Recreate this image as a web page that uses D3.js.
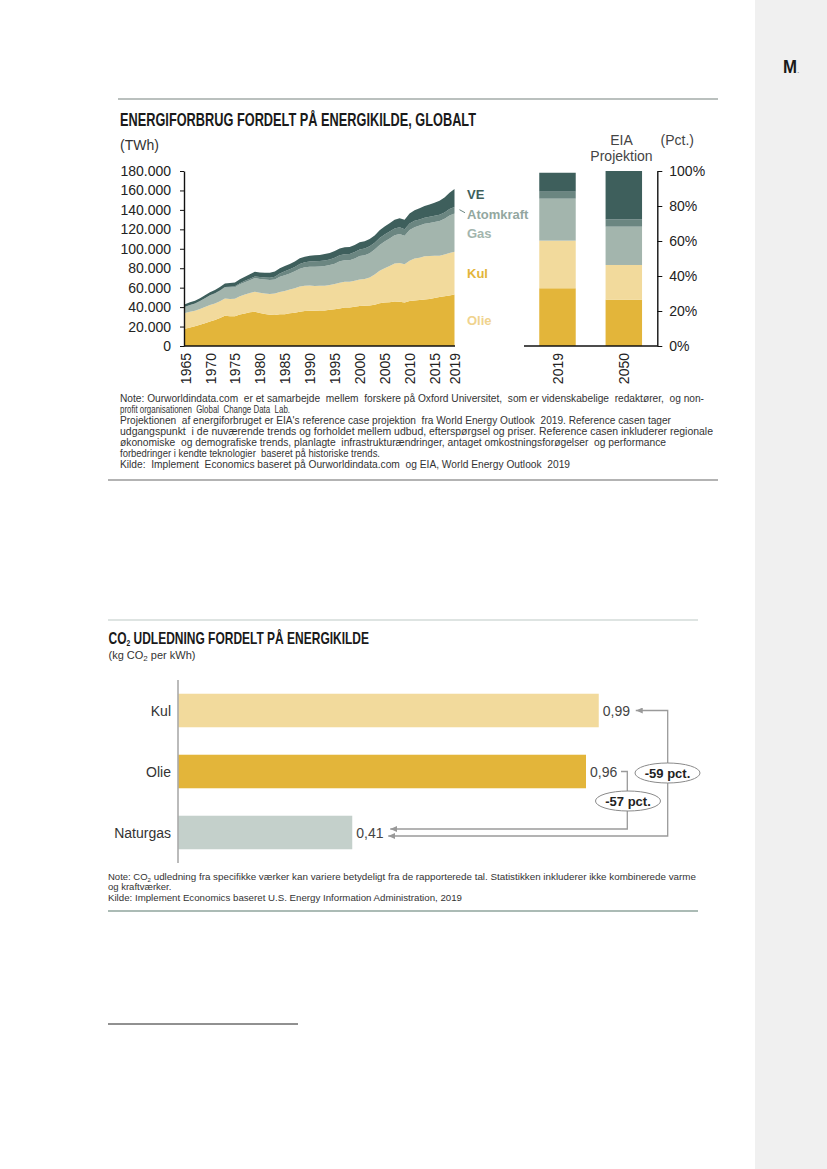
<!DOCTYPE html>
<html><head><meta charset="utf-8">
<script src="https://cdn.jsdelivr.net/npm/d3@7"></script>
<style>
body{margin:0;background:#fff}
svg{display:block}
text{font-family:"Liberation Sans",Arial,sans-serif}
</style>
</head><body>
<svg id="c" width="827" height="1169"></svg>
<script>
// ---------- DATA ----------
const years = [1965,1966,1967,1968,1969,1970,1971,1972,1973,1974,1975,1976,1977,1978,1979,1980,1981,1982,1983,1984,1985,1986,1987,1988,1989,1990,1991,1992,1993,1994,1995,1996,1997,1998,1999,2000,2001,2002,2003,2004,2005,2006,2007,2008,2009,2010,2011,2012,2013,2014,2015,2016,2017,2018,2019];
const olie = [17800,19000,20300,21900,23500,25300,26800,28800,31100,30700,30500,32300,33400,34600,35200,33900,32900,32100,32000,32600,32700,33600,34200,35300,35900,36300,36300,36600,36500,37200,37700,38600,39500,39700,40500,41100,41300,41700,42500,44100,44700,45100,45700,45500,44800,46300,46700,47300,47900,48300,49400,50300,51200,51900,53100];
const kul = [16100,16300,15900,16200,16700,17000,16900,17200,17700,17700,18200,18900,19500,19800,20700,20900,21000,21300,21900,22900,24000,24500,25300,26000,26200,25900,25500,25300,25400,25600,26000,26500,26600,26300,26600,27400,27700,28700,31000,33200,35400,37300,39100,39800,39400,41300,43300,43600,44300,44300,43400,42600,43000,43800,43800];
const gas = [6300,6800,7300,8000,8800,9600,10200,10800,11400,11700,11700,12300,12700,13200,14000,14200,14400,14400,14600,15700,16200,16500,17300,18100,18900,19400,19800,19900,20300,20400,21000,22000,22000,22300,23000,24100,24400,25100,25800,26700,27400,28100,29100,29800,29200,31600,32200,33100,33600,34000,34800,35700,36700,38600,39300];
const atomkraft = [70,90,110,140,170,220,300,400,550,720,1000,1150,1400,1650,1700,1900,2250,2450,2800,3350,3950,4250,4550,4900,5050,5300,5550,5600,5800,5900,6100,6300,6250,6350,6600,6750,6900,7000,6900,7150,7150,7200,7000,6950,6800,6900,6600,6150,6200,6300,6350,6450,6500,6650,6900];
const ve = [2600,2750,2850,2950,3100,3250,3400,3500,3600,3900,4000,4050,4150,4450,4650,4750,4850,5000,5250,5400,5500,5600,5650,5850,5800,6000,6200,6200,6550,6600,6900,7000,7100,7150,7250,7450,7350,7500,7550,8000,8350,8650,8900,9450,9650,10300,10800,11450,12100,12700,13300,14300,15300,16700,18500];
const sources = ["Olie","Kul","Gas","Atomkraft","VE"];
const yTicks = [0,20000,40000,60000,80000,100000,120000,140000,160000,180000];
const yearTicks = [1965,1970,1975,1980,1985,1990,1995,2000,2005,2010,2015,2019];

const projCats = ["2019","2050"];
const proj2019 = [33.0,27.2,24.0,4.0,10.8];   // Olie, Kul, Gas, Atomkraft, VE (pct)
const proj2050 = [26.5,19.8,21.9,4.2,27.6];
const pctTicks = [0,20,40,60,80,100];

const co2Cats = ["Kul","Olie","Naturgas"];
const co2Vals = [0.99,0.96,0.41];
const co2Changes = ["-59 pct.","-57 pct."];

// ---------- STYLE ----------
const colors = {Olie:"#e3b53a", Kul:"#f2da9c", Gas:"#a3b5ad", Atomkraft:"#6b8681", VE:"#3e5f5c"};
const labelColors = {Olie:"#f0d38e", Kul:"#e3b53a", Gas:"#a3b5ad", Atomkraft:"#93a79f", VE:"#3e5f5c"};
const co2Colors = {Kul:"#f2da9c", Olie:"#e3b53a", Naturgas:"#c4d0cb"};

const loc = d3.formatLocale({decimal:",", thousands:".", grouping:[3], currency:["",""]});
const fmtThousands = loc.format(",.0f");
const fmt2 = loc.format(".2f");

const svg = d3.select("#c");
svg.append("rect").attr("width",827).attr("height",1169).attr("fill","#fff");
// side strip
svg.append("rect").attr("x",755).attr("y",0).attr("width",72).attr("height",1169).attr("fill","#f0f0f0");
svg.append("text").attr("x",783).attr("y",73).attr("font-size",19).attr("font-weight","bold")
  .attr("textLength",14).attr("lengthAdjust","spacingAndGlyphs").attr("fill","#1a1a1a").text("M");
svg.append("text").attr("x",797).attr("y",73).attr("font-size",9).attr("fill","#888").text(".");

// ---------- CHART 1 ----------
svg.append("line").attr("x1",118).attr("x2",718).attr("y1",99).attr("y2",99).attr("stroke","#a3aba9").attr("stroke-width",1.5);
svg.append("text").attr("x",120).attr("y",125.5)
  .attr("font-family","'DejaVu Sans Condensed','DejaVu Sans',sans-serif").attr("font-weight","bold")
  .attr("font-size",19).attr("textLength",356).attr("lengthAdjust","spacingAndGlyphs").attr("fill","#1a1a1a")
  .text("ENERGIFORBRUG FORDELT PÅ ENERGIKILDE, GLOBALT");
svg.append("text").attr("x",120).attr("y",150).attr("font-size",14).attr("fill","#333").text("(TWh)");

const x = d3.scaleLinear().domain([1965,2019]).range([185,454.5]);
const y = d3.scaleLinear().domain([0,180000]).range([346,171]);

const rows = years.map((yr,i)=>({year:yr, Olie:olie[i], Kul:kul[i], Gas:gas[i], Atomkraft:atomkraft[i], VE:ve[i]}));
const stacked = d3.stack().keys(sources)(rows);
const area = d3.area().x(d=>x(d.data.year)).y0(d=>y(d[0])).y1(d=>y(d[1]));
svg.append("g").selectAll("path").data(stacked).join("path")
  .attr("d",area).attr("fill",d=>colors[d.key]);

const gy = svg.append("g").attr("transform","translate(184,0)")
  .call(d3.axisLeft(y).tickValues(yTicks).tickFormat(fmtThousands).tickSize(4).tickSizeOuter(0).tickPadding(9));
gy.select(".domain").attr("stroke","#111").attr("stroke-width",1.4);
gy.selectAll(".tick line").attr("stroke","#111");
gy.selectAll("text").attr("font-size",14).attr("fill","#222").attr("font-family","'Liberation Sans',Arial,sans-serif");

const gx = svg.append("g").attr("transform","translate(0,346)")
  .call(d3.axisBottom(x).tickValues(yearTicks).tickFormat(d=>String(d)).tickSize(0).tickSizeOuter(0));
gx.select(".domain").attr("stroke","#111").attr("stroke-width",1.4).attr("d","M184,0H455");
gx.selectAll("text").attr("font-size",14).attr("fill","#222").attr("font-family","'Liberation Sans',Arial,sans-serif")
  .attr("transform","rotate(-90)").attr("text-anchor","end").attr("x",-7).attr("y",0).attr("dy","0.36em");

// series labels at the right end
const last = rows.length-1;
const labelDy = {Olie:4.5, Kul:4.5, Gas:5, Atomkraft:8.5, VE:1};
stacked.forEach(s=>{
  const d = s[last];
  const ym = y((d[0]+d[1])/2);
  svg.append("text").attr("x",467).attr("y",ym+labelDy[s.key]).attr("font-size",13).attr("font-weight","bold")
    .attr("fill",labelColors[s.key]).text(s.key);
  if(s.key==="Atomkraft"){
    svg.append("line").attr("x1",459.5).attr("y1",ym-0.5).attr("x2",465).attr("y2",ym+2.5)
      .attr("stroke","#6b8681").attr("stroke-width",1);
  }
});

// projection bars
const xb = d3.scaleBand().domain(projCats).range([524,657.3]).paddingInner(0.45).paddingOuter(0.23);
const yp = d3.scaleLinear().domain([0,100]).range([346,171]);
const projRows = [proj2019, proj2050].map((arr,i)=>{
  const o = {cat:projCats[i]}; sources.forEach((k,j)=>o[k]=arr[j]); return o;
});
const pstack = d3.stack().keys(sources)(projRows);
svg.append("g").selectAll("g").data(pstack).join("g").attr("fill",d=>colors[d.key])
  .selectAll("rect").data(d=>d).join("rect")
  .attr("x",d=>xb(d.data.cat)).attr("width",xb.bandwidth())
  .attr("y",d=>yp(d[1])).attr("height",d=>yp(d[0])-yp(d[1]));

const gr = svg.append("g").attr("transform","translate(657.3,0)")
  .call(d3.axisRight(yp).tickValues(pctTicks).tickFormat(d=>d+"%").tickSize(5).tickSizeOuter(0).tickPadding(7));
gr.select(".domain").attr("stroke","#111").attr("stroke-width",1.4);
gr.selectAll(".tick line").attr("stroke","#111");
gr.selectAll("text").attr("font-size",14).attr("fill","#222").attr("font-family","'Liberation Sans',Arial,sans-serif");

const gb = svg.append("g").attr("transform","translate(0,346)")
  .call(d3.axisBottom(xb).tickSize(0).tickSizeOuter(0));
gb.select(".domain").attr("stroke","#111").attr("stroke-width",1.4).attr("d","M524,0H657.3");
gb.selectAll("text").attr("font-size",14).attr("fill","#222").attr("font-family","'Liberation Sans',Arial,sans-serif")
  .attr("transform","rotate(-90)").attr("text-anchor","end").attr("x",-7).attr("y",0).attr("dy","0.36em");

svg.append("text").attr("x",621.5).attr("y",145).attr("text-anchor","middle").attr("font-size",14).attr("fill","#444").text("EIA");
svg.append("text").attr("x",621.5).attr("y",160.5).attr("text-anchor","middle").attr("font-size",14).attr("fill","#444").text("Projektion");
svg.append("text").attr("x",660.5).attr("y",145).attr("font-size",14).attr("fill","#444").text("(Pct.)");

// footnote 1
const note1 = [
  ["Note: Ourworldindata.com  er et samarbejde  mellem  forskere på Oxford Universitet,  som er videnskabelige  redaktører,  og non-", 584],
  ["profit organisationen  Global  Change Data  Lab.", 170],
  ["Projektionen  af energiforbruget er EIA's reference case projektion  fra World Energy Outlook  2019. Reference casen tager", 551],
  ["udgangspunkt  i de nuværende trends og forholdet mellem udbud, efterspørgsel og priser. Reference casen inkluderer regionale", 593],
  ["økonomiske  og demografiske trends, planlagte  infrastrukturændringer, antaget omkostningsforøgelser  og performance", 546],
  ["forbedringer i kendte teknologier  baseret på historiske trends.", 260],
  ["Kilde:  Implement  Economics baseret på Ourworldindata.com  og EIA, World Energy Outlook  2019", 450]
];
svg.append("g").selectAll("text").data(note1).join("text")
  .attr("x",120).attr("y",(d,i)=>402+i*11).attr("font-size",10).attr("fill","#333")
  .attr("textLength",d=>d[1]).attr("lengthAdjust","spacingAndGlyphs").attr("xml:space","preserve").text(d=>d[0]);
svg.append("line").attr("x1",108).attr("x2",718).attr("y1",480).attr("y2",480).attr("stroke","#9a9a9a").attr("stroke-width",1.5);

// ---------- CHART 2 ----------
svg.append("line").attr("x1",108).attr("x2",698).attr("y1",620).attr("y2",620).attr("stroke","#d3dbd8").attr("stroke-width",1.5);
const t2font = "'DejaVu Sans Condensed','DejaVu Sans',sans-serif";
const t2 = svg.append("text").attr("x",0).attr("y",0).attr("font-family",t2font).attr("font-weight","bold")
  .attr("font-size",16).attr("fill","#1a1a1a");
t2.append("tspan").text("CO");
t2.append("tspan").attr("dy",2).attr("font-size",9).text("2");
t2.append("tspan").attr("dy",-2).text(" UDLEDNING FORDELT PÅ ENERGIKILDE");
const t2w = t2.node().getBBox().width || 370;
t2.attr("transform",`translate(108.5,644) scale(${261/t2w},1)`);

const st = svg.append("text").attr("x",108.5).attr("y",658.5).attr("font-size",11).attr("fill","#333");
st.append("tspan").text("(kg CO");
st.append("tspan").attr("font-size",8).attr("dy",2).text("2");
st.append("tspan").attr("dy",-2).text(" per kWh)");

const xs = d3.scaleLinear().domain([0,1]).range([178,603]);
const ys = d3.scaleBand().domain(co2Cats).range([680,863]).paddingInner(0.45).paddingOuter(0.225);
svg.append("g").selectAll("rect").data(co2Cats).join("rect")
  .attr("x",xs(0)).attr("y",d=>ys(d)).attr("width",(d,i)=>xs(co2Vals[i])-xs(0)).attr("height",ys.bandwidth())
  .attr("fill",d=>co2Colors[d]);
svg.append("line").attr("x1",178).attr("x2",178).attr("y1",680).attr("y2",863).attr("stroke","#aaa").attr("stroke-width",1.6);
svg.append("g").selectAll("text").data(co2Cats).join("text")
  .attr("x",171).attr("y",d=>ys(d)+ys.bandwidth()/2).attr("dy","0.36em").attr("text-anchor","end")
  .attr("font-size",14).attr("fill","#333").text(d=>d);
svg.append("g").selectAll("text").data(co2Cats).join("text")
  .attr("x",(d,i)=>xs(co2Vals[i])+4).attr("y",d=>ys(d)+ys.bandwidth()/2).attr("dy","0.36em")
  .attr("font-size",14).attr("fill","#444").text((d,i)=>fmt2(co2Vals[i]));

// arrows
const defs = svg.append("defs");
defs.append("marker").attr("id","ah").attr("viewBox","0 0 7 6").attr("markerWidth",7).attr("markerHeight",6)
  .attr("markerUnits","userSpaceOnUse").attr("refX",7).attr("refY",3).attr("orient","auto-start-reverse")
  .append("path").attr("d","M0,0L7,3L0,6Z").attr("fill","#999");
const yc = c=>ys(c)+ys.bandwidth()/2;
const xNatEnd = xs(co2Vals[2])+36;
svg.append("path").attr("fill","none").attr("stroke","#9a9a9a").attr("stroke-width",1.3)
  .attr("marker-start","url(#ah)").attr("marker-end","url(#ah)")
  .attr("d",`M${xs(co2Vals[0])+37},${yc("Kul")}H667.7V${yc("Naturgas")+3.5}H${xNatEnd}`);
svg.append("path").attr("fill","none").attr("stroke","#9a9a9a").attr("stroke-width",1.3)
  .attr("marker-end","url(#ah)")
  .attr("d",`M${xs(co2Vals[1])+35},${yc("Olie")}H627.3V${yc("Naturgas")-3.5}H${xNatEnd+2}`);
const ell = [[667.5,773,co2Changes[0]],[628,801,co2Changes[1]]];
ell.forEach(e=>{
  svg.append("ellipse").attr("cx",e[0]).attr("cy",e[1]).attr("rx",32.5).attr("ry",10)
    .attr("fill","#fff").attr("stroke","#8a8a8a").attr("stroke-width",1);
  svg.append("text").attr("x",e[0]).attr("y",e[1]).attr("dy","0.36em").attr("text-anchor","middle")
    .attr("font-size",13).attr("font-weight","bold").attr("fill","#222").text(e[2]);
});

// footnote 2
const n2 = svg.append("g").attr("font-size",9.5).attr("fill","#333");
const l1 = n2.append("text").attr("x",108).attr("y",880);
l1.append("tspan").text("Note:  CO");
l1.append("tspan").attr("font-size",6).attr("dy",2).text("2");
l1.append("tspan").attr("dy",-2).attr("textLength",545).attr("lengthAdjust","spacingAndGlyphs")
  .text(" udledning  fra specifikke  værker kan variere  betydeligt fra de rapporterede  tal.  Statistikken  inkluderer ikke kombinerede  varme");
n2.append("text").attr("x",108).attr("y",890).text("og kraftværker.");
n2.append("text").attr("x",108).attr("y",901).attr("textLength",354).attr("lengthAdjust","spacingAndGlyphs")
  .text("Kilde:  Implement  Economics baseret U.S.  Energy Information Administration,  2019");
svg.append("line").attr("x1",108).attr("x2",698).attr("y1",911).attr("y2",911).attr("stroke","#8fa59d").attr("stroke-width",1.5);

// footnote separator
svg.append("line").attr("x1",108).attr("x2",298).attr("y1",1024).attr("y2",1024).attr("stroke","#222").attr("stroke-width",1);
</script>
</body></html>
